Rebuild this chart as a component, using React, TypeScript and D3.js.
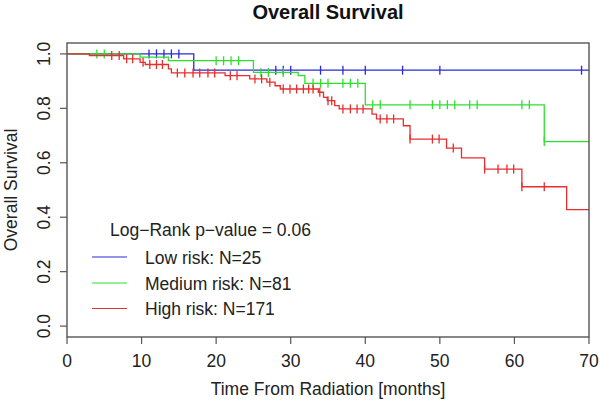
import React from "react";
import * as d3 from "d3";

// ---- data ----
const xTicks = [0, 10, 20, 30, 40, 50, 60, 70];
const yTicks = [0, 0.2, 0.4, 0.6, 0.8, 1.0];

const lowTimes = [0, 17];
const lowSurv = [1.0, 0.94];
const lowCensor = [11, 12, 13, 14, 15, 28, 29, 30, 34, 37, 40, 45, 50, 69];

const medTimes = [0, 9.8, 13.6, 25.0, 31.0, 31.9, 40.0, 64.0];
const medSurv = [1.0, 0.988, 0.975, 0.932, 0.92, 0.892, 0.813, 0.678];
const medCensor = [4, 5, 20, 21, 22, 23, 26, 27, 29, 33, 34, 35, 37, 38, 39, 41, 42, 46, 49, 50, 51, 52, 54, 55, 61, 62, 64];

const highTimes = [0, 3.0, 7.6, 9.8, 10.5, 13.6, 14.0, 21.2, 24.5, 26.8, 27.9, 28.6, 33.7, 34.4, 34.9, 35.9, 36.5, 40.9, 41.5, 45.1, 46.0, 50.9, 52.9, 56.0, 61.0, 67.0];
const highSurv = [1.0, 0.994, 0.982, 0.969, 0.961, 0.945, 0.93, 0.92, 0.908, 0.896, 0.883, 0.871, 0.859, 0.84, 0.828, 0.81, 0.798, 0.779, 0.761, 0.736, 0.687, 0.654, 0.618, 0.577, 0.512, 0.428];
const highCensor = [6, 7, 8, 8.8, 10.2, 11.1, 12, 12.8, 14.8, 15.8, 16.9, 17.8, 18.9, 19.8, 21.9, 22.8, 25.2, 26.1, 27.2, 29, 29.9, 30.8, 31.7, 32.4, 33, 33.9, 35, 35.5, 37, 38, 38.9, 39.7, 42, 42.9, 43.8, 46, 49, 49.9, 51.8, 56, 57.8, 59, 59.9, 61, 64];

const groupLabels = ["Low risk: N=25", "Medium risk: N=81", "High risk: N=171"];
const groupColors = ["#2a2ad8", "#2ee02e", "#e62e2e"];

const W = 600, H = 405;
const L = 67, R = 589, T = 43, B = 337;
const FONT = "'Liberation Sans', Arial, Helvetica, sans-serif";

export default function App() {
  const x = d3.scaleLinear().domain([0, 70]).range([L, R]);
  const y = d3.scaleLinear().domain([-0.04, 1.04]).range([B, T]);
  const groups = [
    { times: lowTimes, surv: lowSurv, cens: lowCensor },
    { times: medTimes, surv: medSurv, cens: medCensor },
    { times: highTimes, surv: highSurv, cens: highCensor },
  ];
  const line = d3
    .line<[number, number]>()
    .x((d) => x(d[0]))
    .y((d) => y(d[1]))
    .curve(d3.curveStepAfter);
  const survAt = (g: any, t: number) => {
    let s = g.surv[0];
    for (let i = 0; i < g.times.length; i++) if (g.times[i] <= t) s = g.surv[i];
    return s;
  };
  const legendY = [257, 283, 308.5];

  return (
    <svg width={W} height={H} style={{ position: "absolute", left: 0, top: 0, background: "#fff" }} fontFamily={FONT}>
      <rect x={0} y={0} width={W} height={H} fill="#fff" />
      <text x={(L + R) / 2} y={19} textAnchor="middle" fontWeight="bold" fontSize={20} fill="#111">
        Overall Survival
      </text>
      {groups.map((g, gi) => {
        const pts: [number, number][] = g.times.map((t, i) => [t, g.surv[i]] as [number, number]);
        pts.push([70, g.surv[g.surv.length - 1]]);
        return (
          <g key={gi} stroke={groupColors[gi]} fill="none" strokeWidth={1.3}>
            <path d={line(pts) || ""} />
            {g.cens.map((c, ci) => {
              const s = survAt(g, c);
              return <line key={ci} x1={x(c)} x2={x(c)} y1={y(s) - 4.5} y2={y(s) + 4.5} />;
            })}
          </g>
        );
      })}
      <rect x={L} y={T} width={R - L} height={B - T} fill="none" stroke="#555" strokeWidth={1.4} />
      {xTicks.map((t) => (
        <g key={t}>
          <line x1={x(t)} x2={x(t)} y1={B} y2={B + 7} stroke="#555" strokeWidth={1.2} />
          <text x={x(t)} y={367} textAnchor="middle" fontSize={17.5} fill="#222">
            {t}
          </text>
        </g>
      ))}
      {yTicks.map((t) => (
        <g key={t}>
          <line x1={L - 7} x2={L} y1={y(t)} y2={y(t)} stroke="#555" strokeWidth={1.2} />
          <text transform={`translate(50,${y(t)}) rotate(-90)`} textAnchor="middle" fontSize={17.5} fill="#222">
            {t.toFixed(1)}
          </text>
        </g>
      ))}
      <text x={(L + R) / 2} y={395} textAnchor="middle" fontSize={17.5} fill="#222">
        Time From Radiation [months]
      </text>
      <text transform={`translate(17,${(T + B) / 2}) rotate(-90)`} textAnchor="middle" fontSize={17.5} fill="#222">
        Overall Survival
      </text>
      <text x={110} y={236} fontSize={17.5} fill="#222">
        Log−Rank p−value = 0.06
      </text>
      {groupLabels.map((lab, i) => (
        <g key={lab}>
          <line x1={92} x2={127} y1={legendY[i]} y2={legendY[i]} stroke={groupColors[i]} strokeWidth={1.2} />
          <text x={145} y={legendY[i] + 6.5} fontSize={17.5} fill="#222">
            {lab}
          </text>
        </g>
      ))}
    </svg>
  );
}
